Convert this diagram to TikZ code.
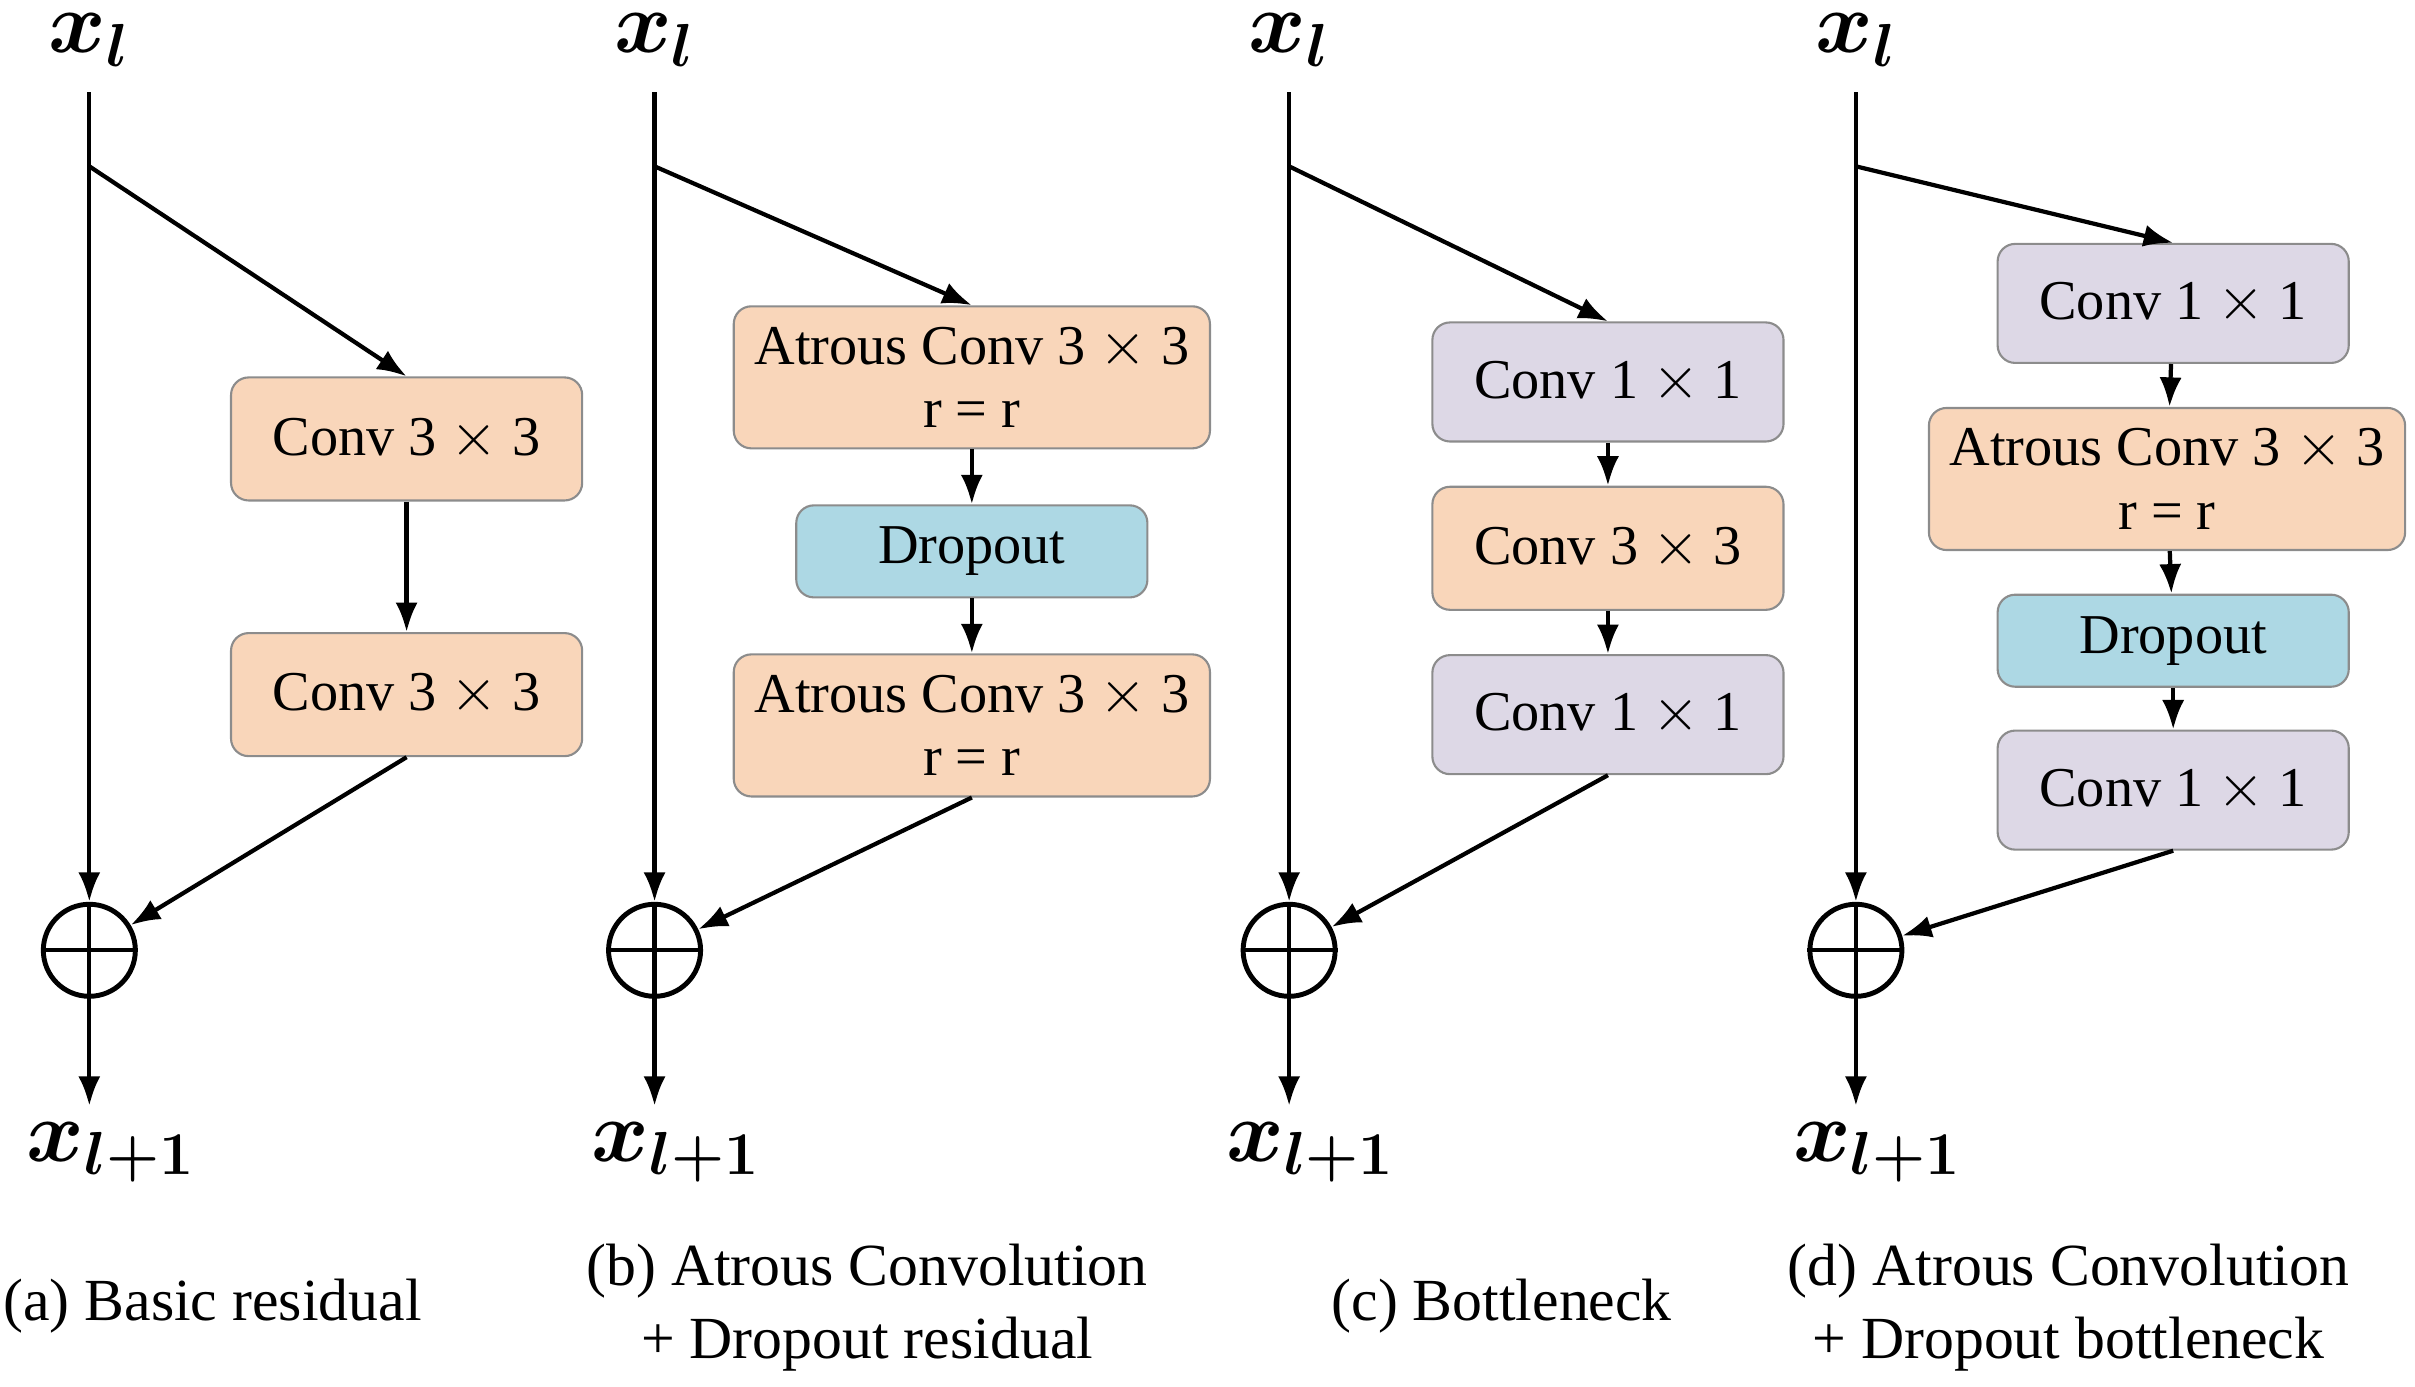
\documentclass[tikz,border=0pt]{standalone}
\usepackage{fontspec}
\setmainfont{Liberation Serif}
\usepackage{amsmath}
\usetikzlibrary{arrows.meta}
\definecolor{borange}{RGB}{249,214,186}
\definecolor{bpurple}{RGB}{221,216,230}
\definecolor{bblue}{RGB}{173,216,228}
\begin{document}
\begin{tikzpicture}[x=0.0154cm, y=-0.0154cm, >=Latex,
  every path/.style={line width=1.2pt},
  blk/.style={draw=black!45, line width=0.6pt, rounded corners=5pt, font=\fontsize{16}{18}\selectfont, align=center, inner sep=0pt},
  orng/.style={blk, fill=borange, minimum width=3.51cm, minimum height=1.23cm},
  atr/.style={blk, fill=borange, minimum width=4.76cm, minimum height=1.42cm},
  prp/.style={blk, fill=bpurple, minimum width=3.51cm, minimum height=1.19cm},
  drp/.style={blk, fill=bblue, minimum width=3.51cm, minimum height=0.92cm},
  sum/.style={draw, circle, minimum size=0.92cm, inner sep=0pt, line width=1.4pt},
  lbl/.style={font=\fontsize{26}{26}\selectfont, inner sep=0pt},
  capt/.style={font=\fontsize{17}{21}\selectfont, align=center, inner sep=0pt}]
\useasboundingbox (0,0) rectangle (1568,900);

% (a)
\node[lbl] (ain) at (58,26) {$\boldsymbol{x_l}$};
\node[lbl] (aout) at (72,748) {$\boldsymbol{x_{l+1}}$};
\coordinate (abr) at (58,108);
\node[orng] (a1) at (264,285) {Conv 3 $\times$ 3};
\node[orng] (a2) at (264,451) {Conv 3 $\times$ 3};
\node[sum] (as) at (58,617) {};
\draw (as.north) -- (as.south) (as.west) -- (as.east);
\draw[->] (58,60) -- (as.north);
\draw[->] (abr) -- (a1.north);
\draw[->] (a1) -- (a2);
\draw[->] (a2.south) -- (as);
\draw[->] (as.south) -- (58,718);
\node[capt] (acap) at (138,848) {(a) Basic residual};

% (b)
\node[lbl] (bin) at (425,26) {$\boldsymbol{x_l}$};
\node[lbl] (bout) at (439,748) {$\boldsymbol{x_{l+1}}$};
\coordinate (bbr) at (425,108);
\node[atr] (b1) at (631,245) {Atrous Conv 3 $\times$ 3\\r = r};
\node[drp] (b2) at (631,358) {Dropout};
\node[atr] (b3) at (631,471) {Atrous Conv 3 $\times$ 3\\r = r};
\node[sum] (bs) at (425,617) {};
\draw (bs.north) -- (bs.south) (bs.west) -- (bs.east);
\draw[->] (425,60) -- (bs.north);
\draw[->] (bbr) -- (b1.north);
\draw[->] (b1) -- (b2);
\draw[->] (b2) -- (b3);
\draw[->] (b3.south) -- (bs);
\draw[->] (bs.south) -- (425,718);
\node[capt] (bcap) at (563,849) {(b) Atrous Convolution\\+ Dropout residual};

% (c)
\node[lbl] (cin) at (837,26) {$\boldsymbol{x_l}$};
\node[lbl] (cout) at (851,748) {$\boldsymbol{x_{l+1}}$};
\coordinate (cbr) at (837,108);
\node[prp] (c1) at (1044,248) {Conv 1 $\times$ 1};
\node[orng] (c2) at (1044,356) {Conv 3 $\times$ 3};
\node[prp] (c3) at (1044,464) {Conv 1 $\times$ 1};
\node[sum] (cs) at (837,617) {};
\draw (cs.north) -- (cs.south) (cs.west) -- (cs.east);
\draw[->] (837,60) -- (cs.north);
\draw[->] (cbr) -- (c1.north);
\draw[->] (c1) -- (c2);
\draw[->] (c2) -- (c3);
\draw[->] (c3.south) -- (cs);
\draw[->] (cs.south) -- (837,718);
\node[capt] (ccap) at (975,848) {(c) Bottleneck};

% (d)
\node[lbl] (din) at (1205,26) {$\boldsymbol{x_l}$};
\node[lbl] (dout) at (1219,748) {$\boldsymbol{x_{l+1}}$};
\coordinate (dbr) at (1205,108);
\node[prp] (d1) at (1411,197) {Conv 1 $\times$ 1};
\node[atr] (d2) at (1407,311) {Atrous Conv 3 $\times$ 3\\r = r};
\node[drp] (d3) at (1411,416) {Dropout};
\node[prp] (d4) at (1411,513) {Conv 1 $\times$ 1};
\node[sum] (ds) at (1205,617) {};
\draw (ds.north) -- (ds.south) (ds.west) -- (ds.east);
\draw[->] (1205,60) -- (ds.north);
\draw[->] (dbr) -- (d1.north);
\draw[->] (d1) -- (d2);
\draw[->] (d2) -- (d3);
\draw[->] (d3) -- (d4);
\draw[->] (d4.south) -- (ds);
\draw[->] (ds.south) -- (1205,718);
\node[capt] (dcap) at (1343,849) {(d) Atrous Convolution\\+ Dropout bottleneck};
\end{tikzpicture}
\end{document}
